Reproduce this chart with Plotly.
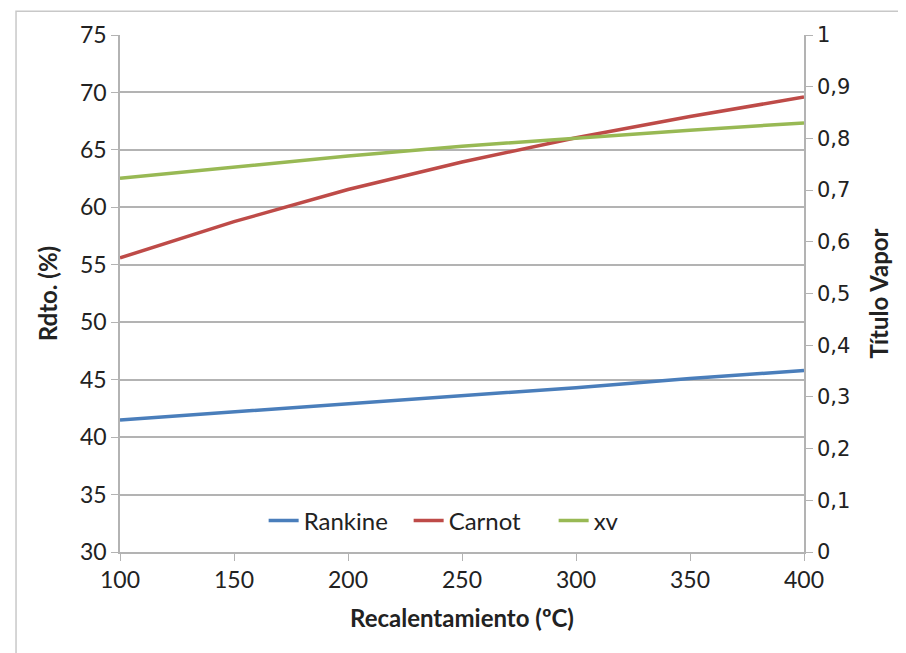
import plotly.graph_objects as go

# recalentamiento (ºC)
recal = [100, 150, 200, 250, 300, 350, 400]

# rendimientos (%)
rankine = [41.5, 42.2, 42.9, 43.6, 44.3, 45.1, 45.8]
carnot = [55.6, 58.75, 61.55, 63.95, 66.05, 67.9, 69.6]

# titulo de vapor
xv = [0.723, 0.745, 0.766, 0.785, 0.801, 0.816, 0.830]

calib = "Lato, Noto Sans, sans-serif"
verd = "DejaVu Sans, Verdana, sans-serif"
grid = "#b3b3b3"

trace1 = go.Scatter(x=recal, y=rankine, name="Rankine", mode="lines",
                    line=dict(color="#4a7ebb", width=3.5))
trace2 = go.Scatter(x=recal, y=carnot, name="Carnot", mode="lines",
                    line=dict(color="#be4b48", width=3.5))
trace3 = go.Scatter(x=recal, y=xv, name="xv", mode="lines", yaxis="y2",
                    line=dict(color="#98b954", width=3.5))

layout = dict(
    width=906, height=653,
    margin=dict(l=112, r=110, t=25, b=109),
    paper_bgcolor="white", plot_bgcolor="white",
    separators=",.",
    font=dict(family=calib, color="#222222", size=22),
    showlegend=True,
    legend=dict(orientation="h", x=0.21, xanchor="left", y=0.06, yanchor="middle",
                entrywidth=100, bgcolor="rgba(0,0,0,0)", font=dict(family=calib, size=24)),
    xaxis=dict(range=[100, 400], tickvals=recal, showgrid=False, zeroline=False,
               showline=True, linecolor=grid, linewidth=1.5,
               ticks="outside", ticklen=7, tickcolor=grid,
               tickfont=dict(family=calib, size=23),
               title=dict(text="<b>Recalentamiento (ºC)</b>", standoff=18,
                          font=dict(family=calib, size=24))),
    yaxis=dict(range=[30, 75], dtick=5, showgrid=True, gridcolor=grid, gridwidth=1.5,
               zeroline=False, showline=True, linecolor=grid, linewidth=1.5,
               ticks="outside", ticklen=7, tickcolor=grid,
               tickfont=dict(family=calib, size=23),
               title=dict(text="<b>Rdto. (%)</b>", standoff=16,
                          font=dict(family=calib, size=24))),
    yaxis2=dict(range=[0, 1], dtick=0.1, overlaying="y", side="right",
                showgrid=False, zeroline=False, showline=True, linecolor=grid, linewidth=1.5,
                ticks="outside", ticklen=7, tickcolor=grid,
                tickfont=dict(family=verd, size=21),
                title=dict(text="<b>Título Vapor</b>", standoff=22,
                           font=dict(family=calib, size=24))),
    shapes=[dict(type="rect", xref="paper", yref="paper",
                 x0=-0.152, x1=1.2, y0=-0.3, y1=1.046,
                 line=dict(color="#c8c8c8", width=1.5), fillcolor="rgba(0,0,0,0)")],
)

fig = go.Figure(data=[trace1, trace2, trace3], layout=layout)
fig.write_html("out.html")
